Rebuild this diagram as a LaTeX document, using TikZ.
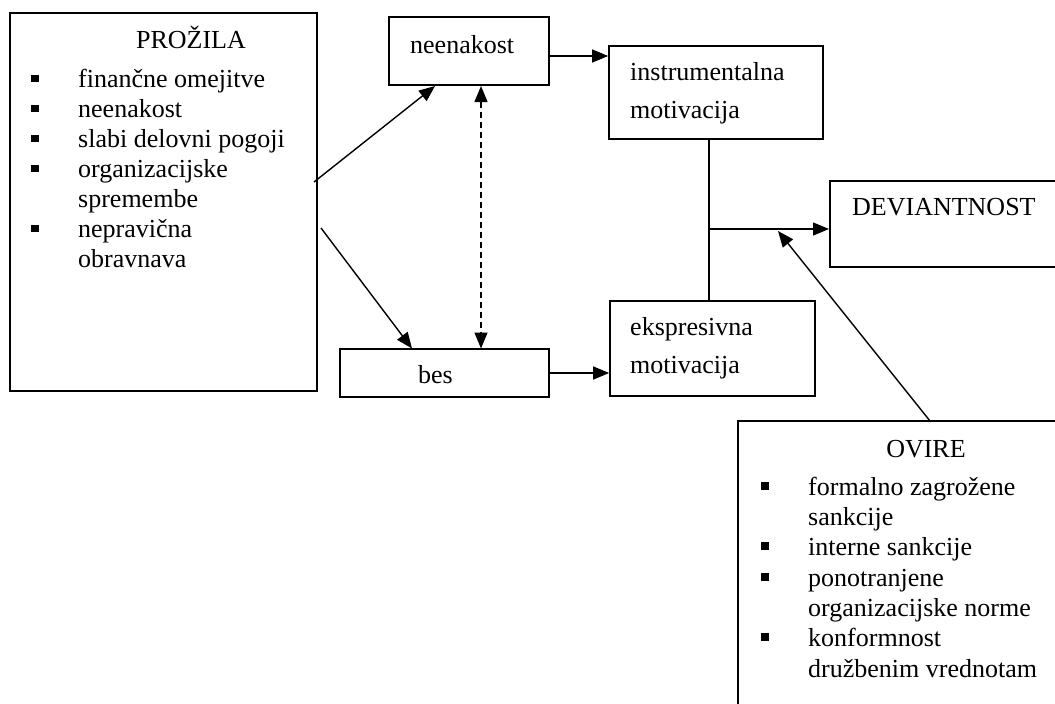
\documentclass[tikz,border=0pt]{standalone}
\usepackage{fontspec}
\setmainfont{Liberation Serif}
\usetikzlibrary{arrows.meta}
\begin{document}
\begin{tikzpicture}[x=1pt,y=-1pt,
  box/.style={draw, line width=1.7pt, inner sep=0pt},
  txt/.style={inner sep=0pt, anchor=base west, font=\fontsize{26}{30}\selectfont},
  bul/.style={fill, inner sep=0pt, minimum size=7.5pt},
  conn/.style={line width=1.4pt},
  tip/.tip={Triangle[length=16pt 0 0,width=13pt 0 0]},
  arr/.style={conn, -tip},
  darr/.style={conn, dash pattern=on 6pt off 4pt, tip-tip}]
\useasboundingbox (0,0) rectangle (1055,704);
\clip (0,0) rectangle (1055,704);

% boxes
\node[box, minimum width=307pt, minimum height=378pt] (proz) at (163.5,202) {};
\node[box, minimum width=160pt, minimum height=68pt] (neen) at (469,51) {};
\node[box, minimum width=214pt, minimum height=93pt] (instr) at (716,92.5) {};
\node[box, minimum width=209pt, minimum height=48pt] (bes) at (444.5,373) {};
\node[box, minimum width=205pt, minimum height=95pt] (eksp) at (712.5,348.5) {};
\node[box, minimum width=245pt, minimum height=86pt] (dev) at (952.5,224) {};
\node[box, minimum width=337pt, minimum height=309pt] (ovire) at (906.5,575.5) {};

% PROZILA texts
\node[txt, anchor=base] (tproz) at (191,48) {PROŽILA};
\node[bul] (pb1) at (35,78.5) {};
\node[txt] (pt1) at (78,87) {finančne omejitve};
\node[bul] (pb2) at (35,108.5) {};
\node[txt] (pt2) at (78,117) {neenakost};
\node[bul] (pb3) at (35,138.5) {};
\node[txt] (pt3) at (78,147) {slabi delovni pogoji};
\node[bul] (pb4) at (35,168.5) {};
\node[txt] (pt4) at (78,177) {organizacijske};
\node[txt] (pt4b) at (78,207) {spremembe};
\node[bul] (pb5) at (35,228.5) {};
\node[txt] (pt5) at (78,237) {nepravična};
\node[txt] (pt5b) at (78,267) {obravnava};

% other box texts
\node[txt] (tneen) at (410,53) {neenakost};
\node[txt] (tinstr1) at (630,80) {instrumentalna};
\node[txt] (tinstr2) at (630,118) {motivacija};
\node[txt] (tbes) at (418,383) {bes};
\node[txt] (teksp1) at (630,335) {ekspresivna};
\node[txt] (teksp2) at (630,373) {motivacija};
\node[txt] (tdev) at (852,215) {DEVIANTNOST};

% OVIRE texts
\node[txt, anchor=base] (tovire) at (926,457) {OVIRE};
\node[bul] (ob1) at (765,486) {};
\node[txt] (ot1) at (808,495) {formalno zagrožene};
\node[txt] (ot1b) at (808,525) {sankcije};
\node[bul] (ob2) at (765,546) {};
\node[txt] (ot2) at (808,555) {interne sankcije};
\node[bul] (ob3) at (765,577) {};
\node[txt] (ot3) at (808,586) {ponotranjene};
\node[txt] (ot3b) at (808,616) {organizacijske norme};
\node[bul] (ob4) at (765,637) {};
\node[txt] (ot4) at (808,646) {konformnost};
\node[txt] (ot4b) at (808,677) {družbenim vrednotam};

% connector points
\coordinate (p1) at (314,182);
\coordinate (n1) at (435,86);
\coordinate (p2) at (321,228);
\coordinate (b1) at (412,348.5);
\coordinate (d1) at (481,86);
\coordinate (d2) at (481,348.5);
\coordinate (i1) at (709,139);
\coordinate (e1) at (709,301);
\coordinate (j1) at (709,229);
\coordinate (v1) at (829,229);
\coordinate (m1) at (778,231);
\coordinate (o1) at (930,421);

% connectors
\draw[arr] (p1) -- (n1);
\draw[arr] (p2) -- (b1);
\draw[darr] (d1) -- (d2);
\draw[arr] (neen.east |- 0,56) -- (instr.west |- 0,56);
\draw[arr] (bes.east) -- (eksp.west |- bes.east);
\draw[conn] (i1) -- (e1);
\draw[arr] (j1) -- (v1);
\draw[arr] (o1) -- (m1);
\end{tikzpicture}
\end{document}
